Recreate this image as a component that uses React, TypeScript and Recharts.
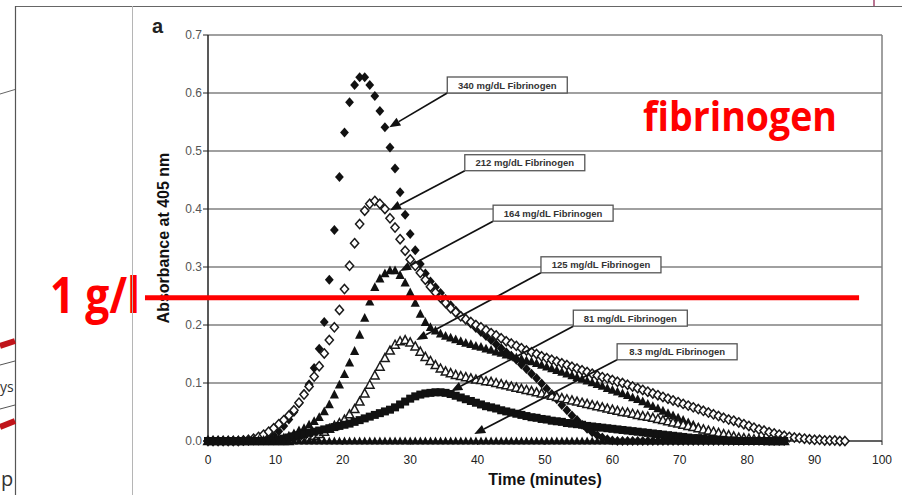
import React from 'react';
import { ScatterChart, Scatter, XAxis, YAxis, CartesianGrid, ReferenceLine } from 'recharts';

// readings every 45 s (0.75 min), starting at t = 0
const STEP = 0.75;

const fib340 = [
  0, 0, 0, 0, 0, 0, 0, 0, 0, 0.001,
  0.001, 0.003, 0.006, 0.01, 0.017, 0.026, 0.037, 0.05, 0.065, 0.081,
  0.098, 0.126, 0.159, 0.205, 0.278, 0.364, 0.455, 0.532, 0.584, 0.614,
  0.627, 0.627, 0.614, 0.595, 0.569, 0.541, 0.506, 0.47, 0.429, 0.39,
  0.357, 0.329, 0.305, 0.289, 0.275, 0.265, 0.255, 0.245, 0.234, 0.225,
  0.216, 0.209, 0.202, 0.195, 0.188, 0.181, 0.174, 0.167, 0.16, 0.153,
  0.147, 0.14, 0.132, 0.124, 0.116, 0.108, 0.099, 0.09, 0.081, 0.072,
  0.062, 0.053, 0.044, 0.036, 0.028, 0.021, 0.015, 0.01, 0.006, 0.003,
  0.001, 0, 0, 0, 0, 0, 0, 0, 0, 0,
  0, 0, 0, 0, 0, 0, 0, 0, 0, 0,
  0, 0, 0, 0, 0, 0, 0, 0, 0, 0,
  0, 0, 0, 0, 0,
];

const fib212 = [
  0, 0, 0, 0, 0, 0, 0, 0.001, 0.002, 0.004,
  0.007, 0.011, 0.016, 0.022, 0.029, 0.036, 0.044, 0.053, 0.066, 0.08,
  0.094, 0.111, 0.129, 0.151, 0.174, 0.196, 0.226, 0.262, 0.302, 0.341,
  0.374, 0.397, 0.409, 0.414, 0.409, 0.4, 0.384, 0.368, 0.348, 0.328,
  0.313, 0.302, 0.29, 0.278, 0.266, 0.256, 0.247, 0.238, 0.229, 0.222,
  0.215, 0.21, 0.205, 0.2, 0.196, 0.191, 0.186, 0.182, 0.177, 0.172,
  0.168, 0.164, 0.16, 0.156, 0.153, 0.15, 0.146, 0.143, 0.14, 0.137,
  0.134, 0.131, 0.128, 0.125, 0.122, 0.119, 0.116, 0.113, 0.11, 0.108,
  0.105, 0.102, 0.1, 0.097, 0.094, 0.091, 0.088, 0.085, 0.082, 0.079,
  0.076, 0.073, 0.07, 0.067, 0.064, 0.061, 0.058, 0.055, 0.052, 0.049,
  0.046, 0.043, 0.04, 0.037, 0.035, 0.032, 0.029, 0.026, 0.023, 0.02,
  0.018, 0.015, 0.013, 0.011, 0.009, 0.007, 0.006, 0.005, 0.004, 0.003,
  0.002, 0.002, 0.001, 0.001, 0.001, 0, 0,
];

const fib164 = [
  0, 0, 0, 0, 0, 0, 0, 0, 0, 0,
  0, 0, 0.001, 0.002, 0.004, 0.006, 0.009, 0.013, 0.018, 0.022,
  0.028, 0.034, 0.041, 0.051, 0.063, 0.08, 0.097, 0.115, 0.135, 0.155,
  0.183, 0.212, 0.24, 0.265, 0.28, 0.289, 0.294, 0.294, 0.286, 0.273,
  0.256, 0.238, 0.219, 0.205, 0.196, 0.19, 0.185, 0.181, 0.178, 0.175,
  0.172, 0.169, 0.167, 0.164, 0.162, 0.159, 0.157, 0.154, 0.152, 0.149,
  0.147, 0.144, 0.142, 0.139, 0.137, 0.134, 0.131, 0.128, 0.125, 0.122,
  0.119, 0.116, 0.113, 0.11, 0.107, 0.104, 0.101, 0.098, 0.095, 0.091,
  0.088, 0.085, 0.082, 0.079, 0.075, 0.072, 0.068, 0.064, 0.06, 0.056,
  0.052, 0.048, 0.044, 0.04, 0.036, 0.032, 0.028, 0.024, 0.02, 0.017,
  0.014, 0.011, 0.008, 0.006, 0.004, 0.002, 0.001, 0, 0, 0,
  0, 0, 0, 0, 0,
];

const fib125 = [
  0, 0, 0, 0, 0, 0, 0, 0, 0, 0,
  0, 0, 0, 0, 0, 0, 0, 0.002, 0.003, 0.004,
  0.006, 0.009, 0.012, 0.016, 0.021, 0.026, 0.031, 0.037, 0.046, 0.055,
  0.068, 0.082, 0.097, 0.113, 0.128, 0.143, 0.156, 0.166, 0.172, 0.174,
  0.17, 0.163, 0.154, 0.145, 0.138, 0.131, 0.125, 0.12, 0.117, 0.114,
  0.112, 0.11, 0.108, 0.106, 0.105, 0.103, 0.102, 0.1, 0.098, 0.096,
  0.094, 0.092, 0.09, 0.088, 0.086, 0.084, 0.082, 0.08, 0.078, 0.076,
  0.074, 0.072, 0.07, 0.068, 0.066, 0.064, 0.062, 0.06, 0.058, 0.056,
  0.054, 0.052, 0.05, 0.049, 0.047, 0.045, 0.043, 0.042, 0.04, 0.038,
  0.036, 0.034, 0.032, 0.03, 0.028, 0.026, 0.024, 0.022, 0.02, 0.018,
  0.016, 0.014, 0.012, 0.01, 0.008, 0.006, 0.005, 0.004, 0.003, 0.002,
  0.001, 0, 0, 0, 0,
];

const fib81 = [
  0, 0, 0, 0, 0, 0, 0, 0, 0, 0,
  0, 0, 0, 0.001, 0.002, 0.004, 0.006, 0.008, 0.01, 0.012,
  0.014, 0.016, 0.018, 0.02, 0.022, 0.024, 0.026, 0.028, 0.03, 0.033,
  0.036, 0.039, 0.042, 0.045, 0.048, 0.051, 0.054, 0.058, 0.063, 0.068,
  0.073, 0.077, 0.08, 0.082, 0.083, 0.084, 0.084, 0.083, 0.081, 0.078,
  0.075, 0.072, 0.069, 0.066, 0.063, 0.06, 0.058, 0.056, 0.053, 0.051,
  0.049, 0.047, 0.045, 0.043, 0.041, 0.04, 0.038, 0.037, 0.035, 0.034,
  0.033, 0.031, 0.03, 0.029, 0.028, 0.026, 0.025, 0.024, 0.023, 0.022,
  0.021, 0.02, 0.019, 0.018, 0.017, 0.016, 0.015, 0.014, 0.013, 0.012,
  0.011, 0.01, 0.009, 0.008, 0.007, 0.006, 0.005, 0.005, 0.004, 0.003,
  0.003, 0.002, 0.002, 0.001, 0.001, 0, 0, 0, 0, 0,
  0, 0, 0, 0, 0,
];

const fib8 = [
  0, 0, 0, 0, 0, 0, 0, 0, 0, 0,
  0, 0, 0, 0, 0, 0, 0, 0, 0, 0,
  0, 0, 0, 0, 0, 0, 0, 0, 0, 0,
  0, 0, 0, 0, 0, 0, 0, 0, 0, 0,
  0, 0, 0, 0, 0, 0, 0, 0, 0, 0,
  0, 0, 0, 0, 0, 0, 0, 0, 0, 0,
  0, 0, 0, 0, 0, 0, 0, 0, 0, 0,
  0, 0, 0, 0, 0, 0, 0, 0, 0, 0,
  0, 0, 0, 0, 0, 0, 0, 0, 0, 0,
  0, 0, 0, 0, 0, 0, 0, 0, 0, 0,
  0, 0, 0, 0, 0, 0, 0, 0, 0, 0,
  0, 0, 0, 0, 0,
];

const xTicks = [0, 10, 20, 30, 40, 50, 60, 70, 80, 90, 100];
const yTicks = [0, 0.1, 0.2, 0.3, 0.4, 0.5, 0.6, 0.7];

// callouts: label, box bottom-left corner, arrow tip (data units)
const calloutText = [
  '340 mg/dL Fibrinogen',
  '212 mg/dL Fibrinogen',
  '164 mg/dL Fibrinogen',
  '125 mg/dL Fibrinogen',
  '81 mg/dL Fibrinogen',
  '8.3 mg/dL Fibrinogen',
];
const calloutBox = [
  [35.5, 0.6],
  [38.1, 0.466],
  [42.3, 0.379],
  [49.4, 0.29],
  [54.2, 0.198],
  [60.7, 0.14],
];
const calloutTip = [
  [26.9, 0.541],
  [27.0, 0.398],
  [28.5, 0.293],
  [30.9, 0.174],
  [36.1, 0.086],
  [39.5, 0.012],
];

const ONE_G_PER_L = 0.247;

const toPoints = (vals: number[]) => vals.map((v, i) => ({ t: i * STEP, v }));

const INK = '#111';

const FilledDiamond = ({ cx, cy }: any) => (
  <polygon points={`${cx},${cy - 5} ${cx + 4.4},${cy} ${cx},${cy + 5} ${cx - 4.4},${cy}`} fill={INK} />
);
const OpenDiamond = ({ cx, cy }: any) => (
  <polygon
    points={`${cx},${cy - 4.6} ${cx + 4.1},${cy} ${cx},${cy + 4.6} ${cx - 4.1},${cy}`}
    fill="#fff"
    stroke="#1a1a1a"
    strokeWidth={1.5}
  />
);
const FilledTriangle = ({ cx, cy }: any) => (
  <polygon points={`${cx},${cy - 5} ${cx + 4.6},${cy + 3.8} ${cx - 4.6},${cy + 3.8}`} fill={INK} />
);
const OpenTriangle = ({ cx, cy }: any) => (
  <polygon
    points={`${cx},${cy - 4.5} ${cx + 4.3},${cy + 3.5} ${cx - 4.3},${cy + 3.5}`}
    fill="#fff"
    stroke="#1a1a1a"
    strokeWidth={1.5}
  />
);
const FilledSquare = ({ cx, cy }: any) => <rect x={cx - 4} y={cy - 4} width={8} height={8} fill={INK} />;
const SmallTriangle = ({ cx, cy }: any) => (
  <polygon points={`${cx},${cy - 4.5} ${cx + 4},${cy + 3.5} ${cx - 4},${cy + 3.5}`} fill={INK} />
);

const callout = (text: string) => (p: any) => {
  const { x1, y1, x2, y2 } = p;
  const w = text.length * 6;
  const h = 16;
  const dx = x2 - x1;
  const dy = y2 - y1;
  const len = Math.hypot(dx, dy) || 1;
  const ux = dx / len;
  const uy = dy / len;
  const bx = x2 - ux * 11;
  const by = y2 - uy * 11;
  return (
    <g>
      <line x1={x1} y1={y1} x2={bx} y2={by} stroke={INK} strokeWidth={1.7} />
      <polygon points={`${x2},${y2} ${bx - uy * 4.5},${by + ux * 4.5} ${bx + uy * 4.5},${by - ux * 4.5}`} fill={INK} />
      <rect x={x1} y={y1 - h} width={w} height={h} fill="#fff" stroke="#555" strokeWidth={1.3} />
      <text
        x={x1 + w / 2}
        y={y1 - 4.5}
        textAnchor="middle"
        fontSize={9.5}
        fontWeight={700}
        fill="#333"
        fontFamily="'Liberation Sans', Arial, sans-serif"
      >
        {text}
      </text>
    </g>
  );
};

const redRule = (p: any) => (
  <g>
    <line x1={p.x1} y1={p.y1} x2={p.x2} y2={p.y2} stroke="#ff0000" strokeWidth={5} />
    <text
      x={p.x1 - 5}
      y={p.y1 + 15}
      textAnchor="end"
      fontSize={50}
      fontWeight={700}
      fill="#ff0000"
      fontFamily="'Open Sans', sans-serif"
      textLength={90}
      lengthAdjust="spacingAndGlyphs"
    >
      1 g/l
    </text>
  </g>
);

export default function App() {
  const series = [
    { name: '340', data: toPoints(fib340), shape: FilledDiamond },
    { name: '212', data: toPoints(fib212), shape: OpenDiamond },
    { name: '164', data: toPoints(fib164), shape: FilledTriangle },
    { name: '125', data: toPoints(fib125), shape: OpenTriangle },
    { name: '81', data: toPoints(fib81), shape: FilledSquare },
    { name: '8.3', data: toPoints(fib8), shape: SmallTriangle },
  ];

  return (
    <div
      style={{
        position: 'absolute',
        left: 0,
        top: 0,
        width: 902,
        height: 495,
        background: '#fff',
        fontFamily: "'Liberation Sans', Arial, sans-serif",
      }}
    >
      <ScatterChart width={902} height={495} margin={{ top: 35, right: 20, bottom: 24, left: 168 }}>
        <CartesianGrid vertical={false} stroke="#808080" strokeWidth={1.5} />
        <XAxis
          type="number"
          dataKey="t"
          domain={[0, 100]}
          ticks={xTicks}
          height={30}
          tickSize={4}
          tickMargin={10}
          tick={{ fill: '#222', fontSize: 12 }}
          axisLine={{ stroke: '#222' }}
          tickLine={{ stroke: '#222' }}
          label={{ value: 'Time (minutes)', position: 'bottom', offset: 3, fill: '#111', fontSize: 16, fontWeight: 700 }}
        />
        <YAxis
          type="number"
          dataKey="v"
          domain={[0, 0.7]}
          ticks={yTicks}
          width={40}
          tickSize={5}
          tickMargin={1}
          tickFormatter={(v: number) => v.toFixed(1)}
          tick={{ fill: '#555', fontSize: 12 }}
          axisLine={{ stroke: '#222', strokeWidth: 1.5 }}
          tickLine={{ stroke: '#222' }}
          label={{
            value: 'Absorbance at 405 nm',
            angle: -90,
            position: 'left',
            offset: 5,
            fill: '#111',
            fontSize: 16,
            fontWeight: 700,
            style: { textAnchor: 'middle' },
          }}
        />
        <ReferenceLine x={100} stroke="#808080" strokeWidth={1.5} />
        {series.map((s) => (
          <Scatter key={s.name} name={s.name} data={s.data} shape={s.shape} isAnimationActive={false} />
        ))}
        {calloutText.map((text, i) => (
          <ReferenceLine
            key={text}
            zIndex={2500}
            segment={[
              { x: calloutBox[i][0], y: calloutBox[i][1] },
              { x: calloutTip[i][0], y: calloutTip[i][1] },
            ]}
            ifOverflow="visible"
            shape={callout(text)}
          />
        ))}
        <ReferenceLine
          zIndex={2600}
          segment={[
            { x: -9.35, y: ONE_G_PER_L },
            { x: 96.6, y: ONE_G_PER_L },
          ]}
          ifOverflow="visible"
          shape={redRule}
        />
      </ScatterChart>

      <svg width={902} height={495} style={{ position: 'absolute', left: 0, top: 0, pointerEvents: 'none' }}>
        <line x1={15} y1={6.5} x2={902} y2={6.5} stroke="#666" strokeWidth={1.2} />
        <line x1={15.5} y1={6} x2={15.5} y2={495} stroke="#555" strokeWidth={1.2} />
        <line x1={132.5} y1={6} x2={132.5} y2={495} stroke="#b5b5b5" strokeWidth={1} />
        <line x1={874} y1={0} x2={874} y2={6} stroke="#8b1a4a" strokeWidth={1.2} />
        <line x1={0} y1={94} x2={15} y2={89.5} stroke="#666" strokeWidth={1} />
        <line x1={0} y1={346} x2={15} y2={341} stroke="#c0151b" strokeWidth={6} />
        <line x1={0} y1={365} x2={15} y2={361} stroke="#555" strokeWidth={1} />
        <text x={0} y={392} fontSize={14} fill="#333" fontFamily="'Open Sans', sans-serif">ys</text>
        <line x1={0} y1={409} x2={15} y2={405} stroke="#555" strokeWidth={1} />
        <line x1={0} y1={427} x2={15} y2={421} stroke="#c0151b" strokeWidth={6} />
        <text x={1} y={486} fontSize={20} fill="#333" fontFamily="'Open Sans', sans-serif">p</text>
        <text x={152} y={33} fontSize={20} fontWeight={700} fill="#222" fontFamily="'Liberation Sans', Arial, sans-serif">
          a
        </text>
        <text
          x={643}
          y={131}
          fontSize={42}
          fontWeight={700}
          fill="#ff0000"
          fontFamily="'Open Sans', sans-serif"
          textLength={194}
          lengthAdjust="spacingAndGlyphs"
        >
          fibrinogen
        </text>
      </svg>
    </div>
  );
}
